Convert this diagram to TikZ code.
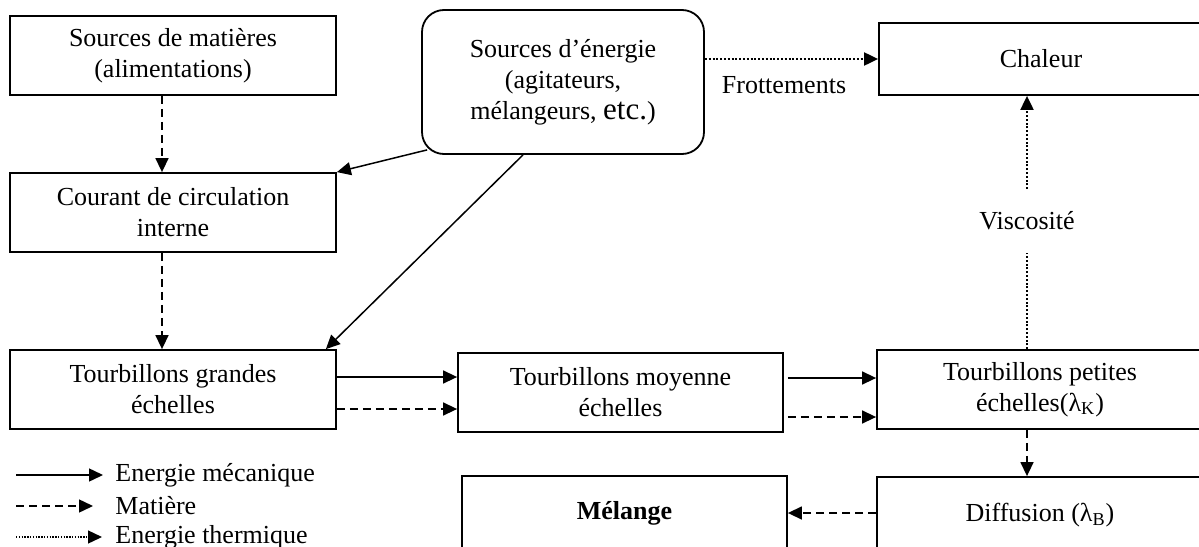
\documentclass[tikz,border=0pt]{standalone}
\usepackage{fontspec}
\setmainfont{Liberation Serif}
\usetikzlibrary{arrows.meta,calc}
\tikzset{
  box/.style={draw, line width=0.9pt, rectangle, inner sep=2pt, align=center,
    font=\fontsize{13}{15.5}\selectfont},
  mech/.style={line width=0.75pt, -{Triangle[length=7pt,width=6.5pt]}},
  matter/.style={mech, dash pattern=on 4pt off 2.5pt},
  thermline/.style={line width=1pt, dash pattern=on 1pt off 0.9pt},
  thermal/.style={thermline, -{Triangle[length=7pt,width=6.5pt]}},
  lbl/.style={font=\fontsize{13}{15.5}\selectfont, inner sep=0pt, align=center},
}
\begin{document}
\begin{tikzpicture}[x=0.5pt,y=-0.5pt]
\useasboundingbox (0,0) rectangle (1199,546);
% boxes
\node[box, minimum width=163pt, minimum height=39.5pt] (mat) at (173,55.5) {Sources de matières\\(alimentations)};
\node[box, minimum width=163pt, minimum height=39.5pt] (cour) at (173,212.5) {Courant de circulation\\interne};
\node[box, minimum width=163pt, minimum height=39.5pt] (grand) at (173,389.5) {Tourbillons grandes\\échelles};
\node[box, rounded corners=11pt, minimum width=141pt, minimum height=72pt] (ener) at (563,82)
  {Sources d’énergie\\(agitateurs,\\mélangeurs, {\fontsize{15.5}{15.5}\selectfont etc.})};
\node[box, minimum width=162pt, minimum height=36pt] (chal) at (1041,59) {Chaleur};
\node[box, minimum width=162.5pt, minimum height=39.5pt] (moy) at (620.5,392.5) {Tourbillons moyenne\\échelles};
\node[box, minimum width=163pt, minimum height=39.5pt] (pet) at (1040,389.5) {Tourbillons petites\\échelles(λ\textsubscript{K})};
\node[box, minimum width=163pt, minimum height=38pt] (diff) at (1040,515) {Diffusion (λ\textsubscript{B})};
\node[box, minimum width=162.5pt, minimum height=37pt, font=\fontsize{13}{15.5}\selectfont\bfseries] (mel) at (624.5,513) {Mélange};
% labels
\node[lbl] (frot) at (784,85) {Frottements};
\node[lbl, minimum height=31.5pt] (visc) at (1027,221) {Viscosité};
% connectors
\draw[matter] ($(mat.south)+(-11,0)$) -- ($(cour.north)+(-11,0)$);
\draw[matter] ($(cour.south)+(-11,0)$) -- ($(grand.north)+(-11,0)$);
\draw[mech] ($(ener.south west)+(6,-5)$) -- (cour.north east);
\draw[mech] ($(ener.south)+(-40,0)$) -- ($(grand.north east)+(-11,0)$);
\draw[thermal] (chal.west -| ener.east) -- (chal.west);
\draw[thermal] (visc.north) -- (visc.north |- chal.south);
\draw[thermline] (pet.north -| visc) -- (visc.south);
\coordinate (g1) at ($(grand.east)+(0,-12.5)$);
\coordinate (g2) at ($(grand.east)+(0,19.5)$);
\draw[mech] (g1) -- (g1 -| moy.west);
\draw[matter] (g2) -- (g2 -| moy.west);
\coordinate (m1) at ($(moy.east)+(4,-14.5)$);
\coordinate (m2) at ($(moy.east)+(4,24.5)$);
\draw[mech] (m1) -- (m1 -| pet.west);
\draw[matter] (m2) -- (m2 -| pet.west);
\draw[matter] (pet.south -| visc) -- (diff.north -| visc);
\coordinate (d1) at ($(diff.west)+(0,-2)$);
\draw[matter] (d1) -- (d1 -| mel.east);
% legend
\node[lbl, anchor=west, inner xsep=6pt] (le1) at (103,475) {Energie mécanique};
\node[lbl, anchor=west, inner xsep=11pt] (le2) at (93,506) {Matière};
\node[lbl, anchor=west, inner xsep=6.5pt] (le3) at (102,537) {Energie thermique};
\coordinate (s1) at (16,475);
\coordinate (s2) at (16,506);
\coordinate (s3) at (16,537);
\draw[mech] (s1) -- (le1.west);
\draw[matter] (s2) -- (le2.west);
\draw[thermal, line width=0.7pt, dash pattern=on 0.7pt off 0.7pt] (s3) -- (le3.west);
\end{tikzpicture}
\end{document}
